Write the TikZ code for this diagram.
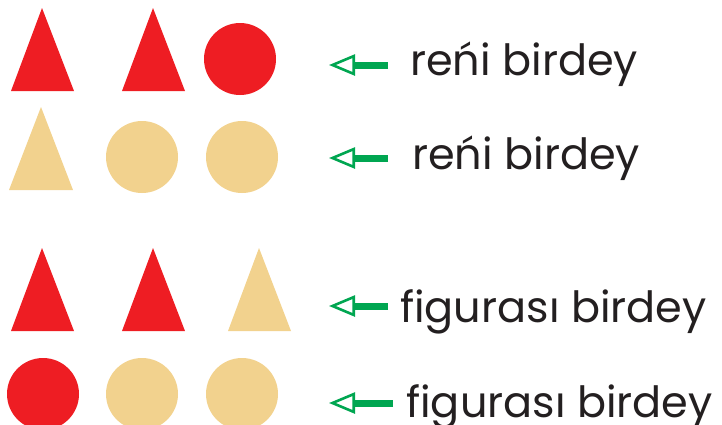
\documentclass[tikz,border=0pt]{standalone}
\usepackage{fontspec}
\setmainfont{Poppins}
\usetikzlibrary{arrows.meta}
\definecolor{shred}{HTML}{EE1D23}
\definecolor{shtan}{HTML}{F2D28E}
\definecolor{argreen}{HTML}{00A651}
\definecolor{txtc}{HTML}{231F20}
\tikzset{
  redf/.style={fill=shred},
  tanf/.style={fill=shtan},
  lbl/.style={anchor=base west, inner sep=0pt, text=txtc, font=\fontsize{43}{50}\selectfont},
  garrow/.style={draw=argreen, line width=7pt,
    -{Triangle[open, length=26pt, width=21pt, line width=2.6pt]}}
}
\begin{document}
\begin{tikzpicture}[x=1pt,y=-1pt]
\useasboundingbox (0,0) rectangle (722,424);
\begin{scope}
\clip (0,0) rectangle (722,424);
% row 1
\fill[redf] (42,8) -- (74,91) -- (11,91) -- cycle;
\fill[redf] (153,8) -- (185,91) -- (122,91) -- cycle;
\fill[redf] (240,59) circle (36);
% row 2
\fill[tanf] (41,107) -- (73,190) -- (9,190) -- cycle;
\fill[tanf] (142,157) circle (36);
\fill[tanf] (242,157) circle (36);
% row 3
\fill[redf] (42,248) -- (74,331) -- (11,331) -- cycle;
\fill[redf] (153,248) -- (185,331) -- (122,331) -- cycle;
\fill[tanf] (259,248) -- (291,331) -- (228,331) -- cycle;
% row 4
\fill[redf] (43,394) circle (36);
\fill[tanf] (142,394) circle (36);
\fill[tanf] (242,394) circle (36);
\end{scope}
% labels
\node[lbl] (l1) at (410,75) {reńi birdey};
\node[lbl] (l2) at (412,169) {reńi birdey};
\node[lbl] (l3) at (400,322) {figurası birdey};
\node[lbl] (l4) at (406,417) {figurası birdey};
% arrows
\coordinate (s1) at (388,65); \coordinate (t1) at (329,65);
\coordinate (s2) at (388,158); \coordinate (t2) at (329,158);
\coordinate (s3) at (388,306); \coordinate (t3) at (329,306);
\coordinate (s4) at (393,403); \coordinate (t4) at (329,403);
\draw[garrow] (s1) -- (t1);
\draw[garrow] (s2) -- (t2);
\draw[garrow] (s3) -- (t3);
\draw[garrow] (s4) -- (t4);
\end{tikzpicture}
\end{document}
